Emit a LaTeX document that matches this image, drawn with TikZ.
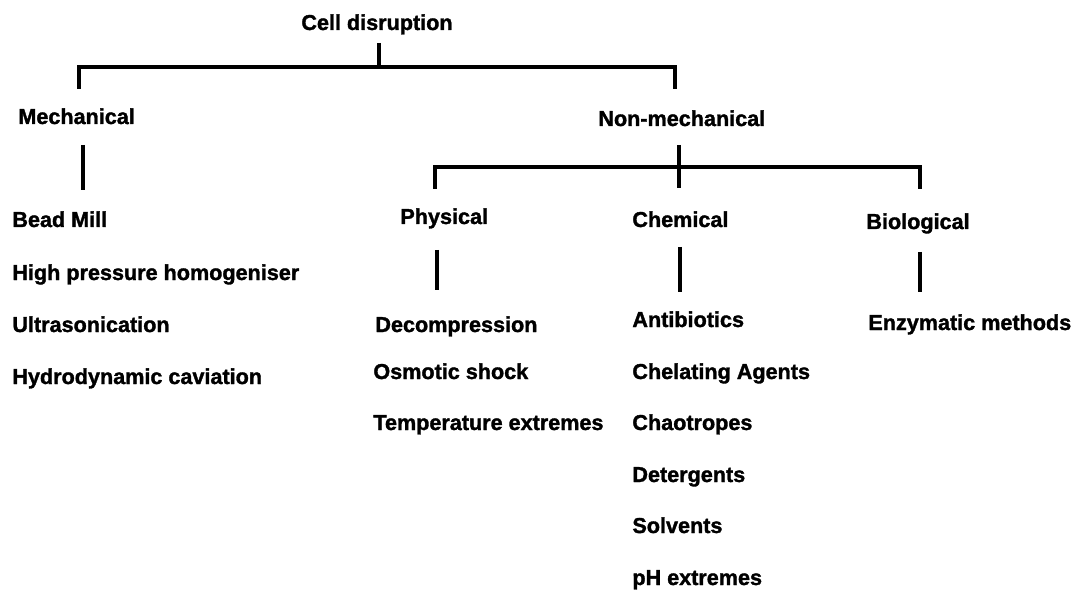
\documentclass[tikz,border=0pt]{standalone}
\usepackage{fontspec}
\setmainfont{Liberation Sans}[BoldFeatures={FakeBold=1.5}]
\begin{document}
\begin{tikzpicture}[x=0.5pt,y=-0.5pt,
  lbl/.style={font=\bfseries\fontsize{10.8}{12}\selectfont, inner sep=0pt, anchor=base west},
  conn/.style={line width=1.9pt}]
\useasboundingbox (0,0) rectangle (1081,593);
% labels
\node[lbl, anchor=base] (root) at (377,30) {Cell disruption};
\node[lbl] (mech) at (18,124) {Mechanical};
\node[lbl] (nonmech) at (598,126) {Non-mechanical};
\node[lbl] (phys) at (400,224) {Physical};
\node[lbl] (chem) at (632,227) {Chemical};
\node[lbl] (bio) at (866,229) {Biological};
% mechanical list
\node[lbl] (m1) at (12,227) {Bead Mill};
\node[lbl] (m2) at (12,280) {High pressure homogeniser};
\node[lbl] (m3) at (12,332) {Ultrasonication};
\node[lbl] (m4) at (12,384) {Hydrodynamic caviation};
% physical list
\node[lbl] (p1) at (375,332) {Decompression};
\node[lbl] (p2) at (373,379) {Osmotic shock};
\node[lbl] (p3) at (373,430) {Temperature extremes};
% chemical list
\node[lbl] (c1) at (632,327) {Antibiotics};
\node[lbl] (c2) at (632,379) {Chelating Agents};
\node[lbl] (c3) at (632,430) {Chaotropes};
\node[lbl] (c4) at (632,482) {Detergents};
\node[lbl] (c5) at (632,533) {Solvents};
\node[lbl] (c6) at (632,585) {pH extremes};
% biological list
\node[lbl] (b1) at (868,330) {Enzymatic methods};
% connector points
\coordinate (r0) at (379,43);
\coordinate (r1) at (379,67);
\coordinate (hL) at (79,67);
\coordinate (hR) at (675,67);
\coordinate (dL) at (79,89);
\coordinate (dR) at (675,89);
\coordinate (mv0) at (83,145);
\coordinate (mv1) at (83,190);
\coordinate (nv0) at (679,145);
\coordinate (nv1) at (679,188);
\coordinate (h2L) at (435,167);
\coordinate (h2R) at (920,167);
\coordinate (d2L) at (435,189);
\coordinate (d2R) at (920,189);
\coordinate (pv0) at (437,250);
\coordinate (pv1) at (437,290);
\coordinate (cv0) at (680,247);
\coordinate (cv1) at (680,292);
\coordinate (bv0) at (920,252);
\coordinate (bv1) at (920,292);
% connectors
\draw[conn] (r0) -- (r1);
\draw[conn] (dL) -- (hL) -- (hR) -- (dR);
\draw[conn] (mv0) -- (mv1);
\draw[conn] (nv0) -- (nv1);
\draw[conn] (d2L) -- (h2L) -- (h2R) -- (d2R);
\draw[conn] (pv0) -- (pv1);
\draw[conn] (cv0) -- (cv1);
\draw[conn] (bv0) -- (bv1);
\end{tikzpicture}
\end{document}
